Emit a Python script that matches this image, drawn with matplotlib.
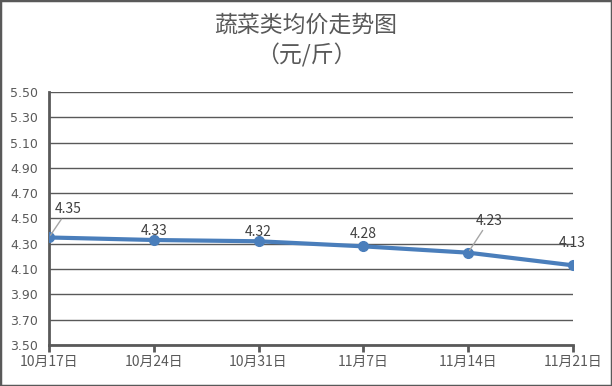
import matplotlib
matplotlib.use("Agg")
import matplotlib.pyplot as plt
from matplotlib.patches import Rectangle

plt.rcParams['font.family'] = ['Noto Sans CJK SC', 'DejaVu Sans']

dates = ["10月17日", "10月24日", "10月31日", "11月7日", "11月14日", "11月21日"]
prices = [4.35, 4.33, 4.32, 4.28, 4.23, 4.13]
yticks = [3.50, 3.70, 3.90, 4.10, 4.30, 4.50, 4.70, 4.90, 5.10, 5.30, 5.50]
# label offsets in pixels (dx, dy) and whether a leader line is drawn
label_offsets = [(19, 28, True), (0, 9, False), (0, 9, False), (0, 12, False), (21, 32, True), (-1, 22, False)]

gray = "#595959"
blue = "#4A7EBB"

fig = plt.figure(figsize=(6.12, 3.86), dpi=100)
fig.patches.append(Rectangle((0, 0), 1, 1, transform=fig.transFigure,
                             fill=False, edgecolor=gray, linewidth=2.5))
ax = fig.add_axes([0.080, 0.106, 0.856, 0.656])

x = list(range(len(dates)))
ax.plot(x, prices, color=blue, linewidth=3, marker="o", markersize=7, zorder=3)

for i, (v, (dx, dy, lead)) in enumerate(zip(prices, label_offsets)):
    arrow = dict(arrowstyle="-", color="#A6A6A6", lw=1, shrinkA=0, shrinkB=2) if lead else None
    ax.annotate(f"{v:.2f}", xy=(i, v), xytext=(dx, dy), textcoords="offset pixels",
                ha="center", va="center", fontsize=10, color="#404040",
                arrowprops=arrow)

ax.set_xlim(0, len(dates) - 1)
ax.set_ylim(3.5, 5.5)
ax.set_yticks(yticks)
ax.set_yticklabels([f"{t:.2f}" for t in yticks], fontsize=9, color=gray,
                   family=["DejaVu Sans"])
ax.set_xticks(x)
ax.set_xticklabels(dates, fontsize=10, color=gray)
ax.grid(axis="y", color=gray, linewidth=1)
ax.set_axisbelow(True)
for s in ["top", "right"]:
    ax.spines[s].set_visible(False)
ax.spines["left"].set_color(gray)
ax.spines["left"].set_linewidth(2)
ax.spines["bottom"].set_color(gray)
ax.spines["bottom"].set_linewidth(2)
ax.tick_params(axis="y", length=0, pad=8)
ax.tick_params(axis="x", direction="out", length=5, width=2, color=gray, pad=2)

fig.text(0.5, 0.935, "蔬菜类均价走势图", ha="center", va="center", fontsize=16.5, color=gray)
fig.text(0.5, 0.857, "（元/斤）", ha="center", va="center", fontsize=16.5, color=gray)

fig.savefig("out.png", dpi=100)
